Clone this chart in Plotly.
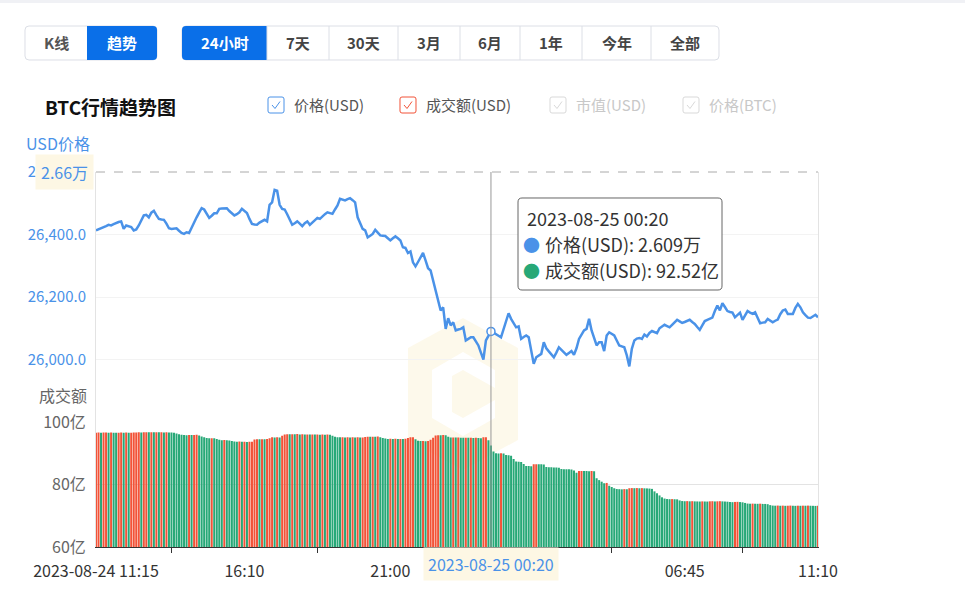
import pandas as pd
import plotly.graph_objects as go

# BTC 24h trend: price (USD) every 5 minutes + 24h volume (亿 USD)
times = pd.date_range("2023-08-24 11:15", periods=288, freq="5min")

price = [
    26413, 26416, 26420, 26423, 26427, 26431, 26429, 26433, 26437, 26440, 26442, 26418,
    26429, 26427, 26424, 26413, 26416, 26429, 26445, 26461, 26463, 26455, 26470, 26476,
    26462, 26450, 26448, 26447, 26435, 26420, 26418, 26419, 26420, 26412, 26405, 26402,
    26407, 26405, 26420, 26439, 26455, 26470, 26484, 26480, 26466, 26453, 26460, 26468,
    26468, 26482, 26483, 26484, 26484, 26475, 26468, 26461, 26465, 26471, 26482, 26476,
    26469, 26450, 26434, 26432, 26431, 26438, 26442, 26447, 26442, 26495, 26503, 26543,
    26540, 26495, 26482, 26480, 26465, 26448, 26431, 26436, 26442, 26435, 26427, 26436,
    26442, 26431, 26438, 26446, 26453, 26450, 26459, 26465, 26471, 26468, 26466, 26480,
    26493, 26514, 26511, 26509, 26513, 26516, 26510, 26503, 26455, 26435, 26418, 26413,
    26391, 26396, 26402, 26415, 26406, 26397, 26396, 26395, 26388, 26381, 26388, 26394,
    26388, 26381, 26359, 26357, 26341, 26346, 26311, 26298, 26312, 26327, 26341, 26317,
    26292, 26285, 26253, 26221, 26189, 26157, 26167, 26098, 26132, 26109, 26119, 26093,
    26096, 26098, 26103, 26061, 26066, 26071, 26071, 26058, 26045, 26022, 26000, 26061,
    26075, 26090, 26086, 26082, 26076, 26071, 26098, 26122, 26148, 26130, 26115, 26103,
    26106, 26066, 26072, 26077, 26071, 26030, 25986, 26007, 26012, 26018, 26055, 26036,
    26026, 26016, 26007, 26022, 26039, 26031, 26024, 26015, 26021, 26027, 26015, 26036,
    26066, 26080, 26093, 26098, 26130, 26093, 26070, 26045, 26055, 26055, 26027, 26077,
    26087, 26082, 26077, 26061, 26045, 26042, 26039, 26013, 25978, 26034, 26061, 26067,
    26069, 26066, 26080, 26074, 26085, 26091, 26088, 26084, 26100, 26106, 26111, 26107,
    26103, 26111, 26119, 26127, 26122, 26117, 26120, 26124, 26127, 26120, 26114, 26104,
    26095, 26109, 26123, 26127, 26131, 26134, 26155, 26173, 26157, 26180, 26168, 26155,
    26152, 26150, 26135, 26142, 26150, 26127, 26141, 26155, 26150, 26146, 26151, 26133,
    26116, 26118, 26119, 26130, 26125, 26119, 26124, 26128, 26145, 26157, 26160, 26146,
    26146, 26146, 26165, 26178, 26167, 26151, 26142, 26134, 26133, 26138, 26143, 26135,
]

# 成交额, unit 亿 USD
volume = [
    96.60, 96.62, 96.58, 96.61, 96.64, 96.60, 96.63, 96.59, 96.57, 96.60, 96.62, 96.58,
    96.61, 96.56, 96.60, 96.63, 96.65, 96.70, 96.67, 96.72, 96.75, 96.71, 96.74, 96.70,
    96.73, 96.69, 96.72, 96.68, 96.70, 96.66, 96.62, 96.58, 96.30, 96.05, 95.90, 95.85,
    95.80, 95.84, 95.82, 95.86, 95.90, 95.70, 95.40, 95.10, 94.85, 94.80, 94.84, 94.78,
    94.60, 94.30, 94.20, 94.24, 94.15, 94.10, 93.90, 93.75, 93.70, 93.74, 93.65, 93.70,
    93.62, 93.66, 93.70, 94.40, 94.50, 94.45, 94.52, 94.48, 94.55, 94.80, 95.10, 95.05,
    95.12, 95.08, 95.60, 96.00, 96.10, 96.05, 96.12, 96.08, 96.15, 96.02, 96.06, 96.00,
    96.04, 95.98, 96.03, 95.97, 96.01, 95.96, 96.00, 95.94, 95.98, 95.90, 95.60, 95.30,
    95.15, 95.10, 95.14, 95.08, 95.12, 95.06, 95.10, 95.05, 95.09, 95.04, 95.08, 95.20,
    95.30, 95.26, 95.32, 95.28, 95.33, 95.10, 94.90, 94.70, 94.60, 94.64, 94.58, 94.62,
    94.55, 94.60, 94.56, 94.62, 94.90, 95.10, 95.12, 94.50, 94.00, 93.90, 93.95, 93.88,
    93.92, 94.30, 95.00, 95.70, 95.80, 95.76, 95.82, 95.74, 95.30, 95.05, 95.08, 95.02,
    95.06, 95.00, 94.95, 94.98, 94.93, 94.97, 94.90, 94.94, 94.88, 94.80, 95.10, 95.15,
    94.20, 92.52, 90.60, 90.00, 89.95, 89.98, 89.90, 89.45, 89.40, 89.20, 88.20, 87.40,
    87.30, 87.20, 86.60, 85.95, 85.90, 85.85, 86.50, 86.52, 86.48, 86.45, 86.40, 85.60,
    85.55, 85.50, 85.48, 85.45, 85.40, 85.00, 84.90, 84.88, 84.85, 84.80, 84.50, 83.80,
    84.30, 84.35, 84.32, 84.30, 84.28, 84.34, 84.25, 82.00, 81.40, 80.90, 80.40, 80.50,
    79.60, 79.20, 78.80, 78.55, 78.50, 78.45, 78.52, 78.48, 78.80, 78.85, 78.82, 78.86,
    78.80, 78.84, 78.78, 78.75, 78.70, 78.60, 77.80, 77.20, 76.50, 75.90, 75.50, 75.35,
    75.30, 75.33, 75.28, 75.25, 74.90, 74.70, 74.65, 74.68, 74.62, 74.66, 74.60, 74.58,
    74.55, 74.60, 74.56, 74.54, 74.62, 74.65, 74.58, 74.62, 74.66, 74.60, 74.55, 74.50,
    74.40, 74.35, 74.42, 74.45, 74.38, 74.30, 74.10, 73.90, 73.85, 73.88, 73.84, 73.82,
    73.86, 73.80, 73.78, 73.70, 73.40, 73.25, 73.22, 73.26, 73.20, 73.24, 73.18, 73.21,
    73.25, 73.20, 73.17, 73.22, 73.19, 73.23, 73.21, 73.25, 73.20, 73.18, 73.15, 73.20,
]

x_label_times = ["2023-08-24 11:15", "2023-08-24 16:10", "2023-08-24 21:00",
                 "2023-08-25 06:45", "2023-08-25 11:10"]
x_label_text = ["2023-08-24 11:15", "16:10", "21:00", "06:45", "11:10"]
x_tick_marks = ["2023-08-24 13:45", "2023-08-24 18:35", "2023-08-24 23:30",
                "2023-08-25 04:20", "2023-08-25 08:40"]

price_ticks = [26000, 26200, 26400, 26600]
price_tick_text = ["26,000.0", "26,200.0", "26,400.0", "26,600.0"]
vol_ticks = [60, 80, 100]
vol_tick_text = ["60亿", "80亿", "100亿"]

range_buttons = ["24小时", "7天", "30天", "3月", "6月", "1年", "今年", "全部"]
hover_time = "2023-08-25 00:20"

BLUE = "#4a92e8"
RED = "#f25338"
GREEN = "#27a877"
BTN_BLUE = "#0a6fe8"
FONT = "Noto Sans CJK SC"

# plot area in pixels: x 96..818, y 172..547
L, R, T, B = 96, 818, 172, 547


def px(x):
    return (x - L) / (R - L)


def py(y):
    return (B - y) / (B - T)


def rrect(x0, y0, x1, y1, rl=4, rr=4):
    # rounded rect path (pixel coords -> paper coords)
    def p(x, y):
        return f"{px(x):.5f},{py(y):.5f}"
    return (f"M {p(x0 + rl, y0)} L {p(x1 - rr, y0)} Q {p(x1, y0)} {p(x1, y0 + rr)} "
            f"L {p(x1, y1 - rr)} Q {p(x1, y1)} {p(x1 - rr, y1)} L {p(x0 + rl, y1)} "
            f"Q {p(x0, y1)} {p(x0, y1 - rl)} L {p(x0, y0 + rl)} Q {p(x0, y0)} {p(x0 + rl, y0)} Z")


bar_colors = [RED if i == 0 or v >= volume[i - 1] else GREEN for i, v in enumerate(volume)]
hi = list(times).index(pd.Timestamp(hover_time))

fig = go.Figure()
fig.add_trace(go.Scatter(x=times, y=price, mode="lines", line=dict(color=BLUE, width=2.5),
                         xaxis="x", yaxis="y", hoverinfo="skip"))
fig.add_trace(go.Bar(x=times, y=volume, marker=dict(color=bar_colors, line=dict(width=0)),
                     xaxis="x2", yaxis="y2", hoverinfo="skip"))
fig.add_trace(go.Scatter(x=[times[hi]], y=[price[hi]], mode="markers",
                         marker=dict(size=8, color="white", line=dict(color=BLUE, width=1.5)),
                         xaxis="x", yaxis="y", hoverinfo="skip"))

shapes = []
annotations = []

# page top strip
shapes.append(dict(type="rect", xref="paper", yref="paper", x0=px(0), x1=px(965), y0=py(0), y1=py(3),
                   fillcolor="#f0f1f5", line=dict(width=0), layer="below"))

# watermark (faint logo)
hexa = [(463, 318), (518, 348), (518, 440), (463, 470), (408, 440), (408, 348)]
path = "M " + " L ".join(f"{px(a):.5f},{py(b):.5f}" for a, b in hexa) + " Z"
shapes.append(dict(type="path", xref="paper", yref="paper", path=path,
                   fillcolor="#fdf8e6", line=dict(width=0), layer="below", opacity=0.8))
inner = [(432, 370), (463, 352), (495, 370), (495, 388), (463, 370), (452, 376),
         (452, 412), (463, 418), (495, 400), (495, 418), (463, 436), (432, 418)]
path = "M " + " L ".join(f"{px(a):.5f},{py(b):.5f}" for a, b in inner) + " Z"
shapes.append(dict(type="path", xref="paper", yref="paper", path=path,
                   fillcolor="white", line=dict(width=0), layer="below"))

# K线 / 趋势 toggle
shapes.append(dict(type="path", xref="paper", yref="paper", path=rrect(25, 26, 157, 60),
                   fillcolor="white", line=dict(color="#dcdfe6", width=1)))
shapes.append(dict(type="path", xref="paper", yref="paper", path=rrect(87, 26, 157, 60, rl=0),
                   fillcolor=BTN_BLUE, line=dict(width=0)))
annotations.append(dict(x=px(56), y=py(43), text="<b>K线</b>", font=dict(color="#555", size=15)))
annotations.append(dict(x=px(122), y=py(43), text="<b>趋势</b>", font=dict(color="white", size=15)))

# range buttons
edges = [182, 267, 329, 398, 460, 520, 582, 651, 719]
shapes.append(dict(type="path", xref="paper", yref="paper", path=rrect(182, 26, 719, 60),
                   fillcolor="white", line=dict(color="#dcdfe6", width=1)))
shapes.append(dict(type="path", xref="paper", yref="paper", path=rrect(182, 26, 267, 60, rr=0),
                   fillcolor=BTN_BLUE, line=dict(width=0)))
for k, name in enumerate(range_buttons):
    a, b = edges[k], edges[k + 1]
    if 0 < k:
        shapes.append(dict(type="line", xref="paper", yref="paper", x0=px(a), x1=px(a),
                           y0=py(26), y1=py(60), line=dict(color="#dcdfe6", width=1)))
    annotations.append(dict(x=px((a + b) / 2), y=py(43), text=f"<b>{name}</b>",
                            font=dict(color="white" if k == 0 else "#444", size=15)))

# title + custom legend
annotations.append(dict(x=px(43), y=py(106), xanchor="left", text="<b>BTC行情趋势图</b>",
                        font=dict(color="#111", size=19)))
legend_items = [(268, "价格(USD)", BLUE, "#555"), (400, "成交额(USD)", RED, "#555"),
                (550, "市值(USD)", "#d9d9d9", "#c8c8c8"), (683, "价格(BTC)", "#d9d9d9", "#c8c8c8")]
for bx, label, bc, tc in legend_items:
    shapes.append(dict(type="path", xref="paper", yref="paper", path=rrect(bx, 97, bx + 16, 113, 2, 2),
                       fillcolor="white", line=dict(color=bc, width=1)))
    chk = f"M {px(bx + 4):.5f},{py(105):.5f} L {px(bx + 7):.5f},{py(108.5):.5f} L {px(bx + 12):.5f},{py(101.5):.5f}"
    shapes.append(dict(type="path", xref="paper", yref="paper", path=chk, line=dict(color=bc, width=1)))
    annotations.append(dict(x=px(bx + 24), y=py(105), xanchor="left", text=label,
                            font=dict(color=tc, size=15)))

# axis titles
annotations.append(dict(x=px(24), y=py(143), xanchor="left", text="USD价格",
                        font=dict(color=BLUE, size=16)))
annotations.append(dict(x=px(89), y=py(395), xanchor="right", text="成交额",
                        font=dict(color="#666", size=16)))

# crosshair
shapes.append(dict(type="line", xref="x", yref="paper", x0=times[hi], x1=times[hi], y0=0, y1=1,
                   line=dict(color="#999", width=1)))
shapes.append(dict(type="line", xref="paper", yref="paper", x0=0, x1=1, y0=1, y1=1,
                   line=dict(color="#aaa", width=1, dash="dash")))
annotations.append(dict(x=0, xref="paper", y=26600, yref="y", xanchor="right", xshift=-2,
                        text="2.66万", font=dict(color=BLUE, size=16), bgcolor="#fdf7e4",
                        borderpad=5))
annotations.append(dict(x=times[hi], xref="x2", y=py(564), text=hover_time,
                        font=dict(color=BLUE, size=16), bgcolor="#fdf7e4", borderpad=4))

# tooltip
shapes.append(dict(type="path", xref="paper", yref="paper", path=rrect(518, 198, 722, 290),
                   fillcolor="white", line=dict(color="#666", width=1)))
tip_lines = [
    (hover_time, None),
    (f"价格(USD): {price[hi] / 1e4:.3f}万", BLUE),
    (f"成交额(USD): {volume[hi]:.2f}亿", GREEN),
]
for k, (txt, dot) in enumerate(tip_lines):
    yy = py(218 + 26 * k)
    if dot is None:
        annotations.append(dict(x=px(525), y=yy, xanchor="left", text=txt,
                                font=dict(color="#333", size=18)))
    else:
        annotations.append(dict(x=px(531), y=yy, text="●", font=dict(color=dot, size=17)))
        annotations.append(dict(x=px(543), y=yy, xanchor="left", text=txt,
                                font=dict(color="#333", size=18)))

for a in annotations:
    a.setdefault("xref", "paper")
    a.setdefault("yref", "paper")
    a.setdefault("showarrow", False)
    a.setdefault("xanchor", "center")
    a.setdefault("yanchor", "middle")

split = (B - 422) / (B - T)

fig.update_layout(
    width=965, height=598,
    margin=dict(l=L, r=965 - R, t=T, b=598 - B),
    paper_bgcolor="white", plot_bgcolor="white",
    showlegend=False, bargap=0.2,
    font=dict(family=FONT, size=14, color="#333"),
    shapes=shapes, annotations=annotations,
    xaxis=dict(domain=[0, 1], anchor="y", matches="x2", showticklabels=False, showgrid=False,
               showline=False, zeroline=False, ticks=""),
    yaxis=dict(domain=[split, 1], range=[25800, 26600], tickvals=price_ticks,
               ticktext=price_tick_text, tickfont=dict(color=BLUE, size=15),
               gridcolor="#f3f3f3", showline=True, linecolor="#e3e3e3", mirror=True,
               zeroline=False, ticks="", ticklabelstandoff=6),
    xaxis2=dict(domain=[0, 1], anchor="y2", range=[times[0], times[-1]],
                tickvals=x_label_times, ticktext=x_label_text, ticks="",
                tickfont=dict(color="#333", size=16), showgrid=False, ticklabelstandoff=10,
                showline=True, linecolor="#333", linewidth=1, zeroline=False,
                minor=dict(tickmode="array", tickvals=x_tick_marks, ticks="outside",
                           ticklen=5, tickcolor="#333", showgrid=False)),
    yaxis2=dict(domain=[0, split], range=[60, 100], tickvals=vol_ticks, ticktext=vol_tick_text,
                tickfont=dict(color="#666", size=16), gridcolor="#e3e3e3",
                showline=True, linecolor="#e3e3e3", mirror=True, zeroline=False, ticks="",
                ticklabelstandoff=6),
)

fig.write_html("out.html", config={"displayModeBar": False},
               post_script="document.body.style.margin='0';")
